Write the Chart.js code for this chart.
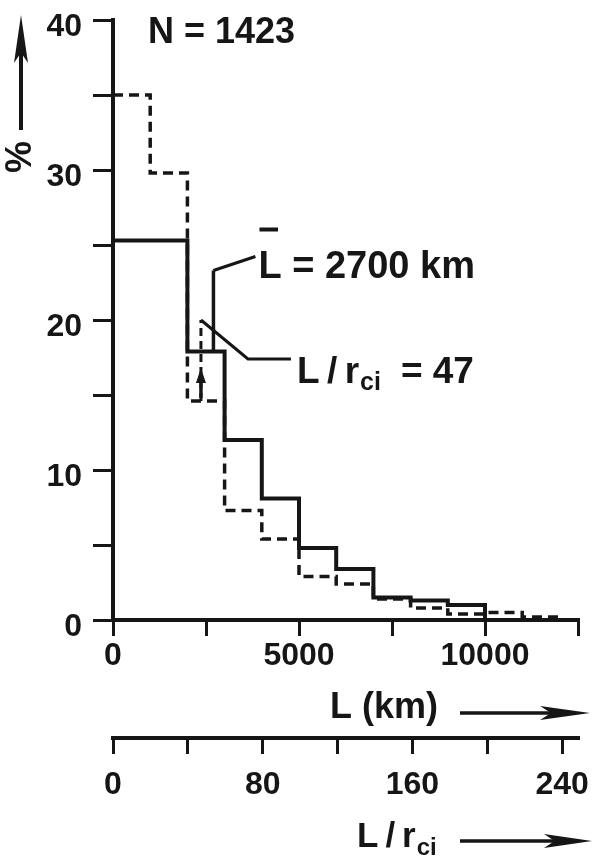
<!DOCTYPE html>
<html>
<head>
<meta charset="utf-8">
<script src="https://cdn.jsdelivr.net/npm/chart.js@4.4.6/dist/chart.umd.min.js"></script>
<style>
  html, body { margin: 0; padding: 0; background: #fff; }
</style>
</head>
<body>
<canvas id="chart" width="599" height="856"></canvas>
<script>
// Histogram of L (km), percent per 1000 km bin. Solid and dashed distributions.
const kmEdgesSolid = [0, 2000, 3000, 4000, 5000, 6000, 7000, 8000, 9000, 10000]
const pctSolid = [25.3, 17.9, 12.0, 8.1, 4.8, 3.4, 1.5, 1.3, 1.0, 0]
const kmEdgesDashed = [0, 1000, 2000, 3000, 4000, 5000, 6000, 7000, 8000, 9000, 10000, 11000, 12000]
const pctDashed = [35.0, 29.8, 14.6, 7.3, 5.4, 2.9, 2.4, 1.4, 0.8, 0.4, 0.5, 0.2, 0]

const pctTicks = [0, 5, 10, 15, 20, 25, 30, 35, 40]
const pctLabels = [0, 10, 20, 30, 40]
const kmTicks = [0, 2500, 5000, 7500, 10000, 12500]
const kmLabels = [0, 5000, 10000]
const lrciTicks = [0, 40, 80, 120, 160, 200, 240]
const lrciLabels = [0, 80, 160, 240]
const lrciMax = 248.5

const sampleSize = 1423
const meanKm = 2700        // L-bar, solid curve
const meanLrci = 47        // L/r_ci, dashed curve
const solidMarkerTop = 23.3
const dashedMarkerTop = 20.0

const INK = "#161616"
const FONT = "'Liberation Sans', Arial, sans-serif"
const W = "bold"
const THIN = "\u2009"

// value of a stepped histogram at position v
function binValue(edges, values, v) {
  let out = values[0]
  edges.forEach((e, i) => { if (v >= e) out = values[i] })
  return out
}

const dashedMeanKm = meanLrci * 12500 / lrciMax

function arrow(ctx, x1, y1, x2, y2, len, half) {
  const ang = Math.atan2(y2 - y1, x2 - x1)
  ctx.beginPath()
  ctx.moveTo(x1, y1)
  ctx.lineTo(x2 - Math.cos(ang) * len * 0.7, y2 - Math.sin(ang) * len * 0.7)
  ctx.stroke()
  ctx.save()
  ctx.translate(x2, y2)
  ctx.rotate(ang)
  ctx.beginPath()
  ctx.moveTo(0, 0)
  ctx.lineTo(-len, -half)
  ctx.lineTo(-len * 0.78, 0)
  ctx.lineTo(-len, half)
  ctx.closePath()
  ctx.fill()
  ctx.restore()
}

const notes = {
  id: "notes",
  beforeDraw(chart) {
    const { ctx, width, height } = chart
    ctx.save()
    ctx.fillStyle = "#fff"
    ctx.fillRect(0, 0, width, height)
    ctx.restore()
  },
  afterDraw(chart) {
    const { ctx, scales: { x, x2, y } } = chart
    ctx.save()
    ctx.fillStyle = INK
    ctx.strokeStyle = INK
    ctx.textAlign = "left"
    ctx.textBaseline = "alphabetic"

    // N
    ctx.font = `${W} 36px ${FONT}`
    ctx.fillText(`N = ${sampleSize}`, x.left + 35, y.top + 23)

    // solid mean marker label
    const mx = x.getPixelForValue(meanKm)
    const my = y.getPixelForValue(solidMarkerTop)
    ctx.lineWidth = 3
    ctx.beginPath()
    ctx.moveTo(mx, my)
    ctx.lineTo(mx + 42, my - 14)
    ctx.stroke()
    ctx.font = `${W} 38px ${FONT}`
    const lx = mx + 45, ly = my + 7
    ctx.fillText("L", lx, ly)
    const lw = ctx.measureText("L").width
    ctx.fillRect(lx + 1, ly - 50, lw * 0.8, 4)
    ctx.fillText(` = ${meanKm} km`, lx + lw, ly)

    // dashed mean marker: arrow + leader + label
    const dx = x2.getPixelForValue(meanLrci)
    const dTop = y.getPixelForValue(dashedMarkerTop)
    const dBot = y.getPixelForValue(binValue(kmEdgesDashed, pctDashed, dashedMeanKm))
    ctx.lineWidth = 3.5
    ctx.beginPath()
    ctx.moveTo(dx, dBot - 3)
    ctx.lineTo(dx, dBot - 20)
    ctx.stroke()
    ctx.beginPath()
    ctx.moveTo(dx, dBot - 33)
    ctx.lineTo(dx - 5, dBot - 18)
    ctx.lineTo(dx + 5, dBot - 18)
    ctx.closePath()
    ctx.fill()

    ctx.lineWidth = 3
    ctx.beginPath()
    ctx.moveTo(dx, dTop)
    ctx.lineTo(dx + 47, dTop + 39)
    ctx.lineTo(dx + 90, dTop + 39)
    ctx.stroke()
    let tx = dx + 96
    const tb = dTop + 63
    ctx.font = `${W} 37px ${FONT}`
    const lr = `L${THIN}/${THIN}r`
    ctx.fillText(lr, tx, tb)
    tx += ctx.measureText(lr).width
    ctx.font = `${W} 25px ${FONT}`
    ctx.fillText("ci", tx + 1, tb + 7)
    tx += ctx.measureText("ci").width + 1
    ctx.font = `${W} 37px ${FONT}`
    ctx.fillText(`= ${meanLrci}`, tx + 20, tb)

    // y axis title: arrow + rotated %
    ctx.lineWidth = 4
    arrow(ctx, 21, y.top + 110, 21, y.top - 5, 48, 7)
    ctx.save()
    ctx.translate(21, y.top + 137)
    ctx.rotate(-Math.PI / 2)
    ctx.font = `${W} 36px ${FONT}`
    ctx.textAlign = "center"
    ctx.textBaseline = "middle"
    ctx.fillText("%", 0, 0)
    ctx.restore()

    // km axis title
    ctx.font = `${W} 36px ${FONT}`
    ctx.fillText("L (km)", x.right - 248, x.top + 98)
    ctx.lineWidth = 3.5
    arrow(ctx, x.right - 118, x.top + 93, x.right + 12, x.top + 93, 50, 7)

    // L/r_ci axis title
    let bx = x2.right - 221
    const bb = x2.top + 109
    ctx.font = `${W} 35px ${FONT}`
    const lr2 = `L${THIN}/${THIN}r`
    ctx.fillText(lr2, bx, bb)
    bx += ctx.measureText(lr2).width
    ctx.font = `${W} 24px ${FONT}`
    ctx.fillText("ci", bx + 1, bb + 8)
    arrow(ctx, x2.right - 118, x2.top + 103, x2.right + 14, x2.top + 103, 48, 7)

    ctx.restore()
  }
}

const axisGrid = (len) => ({
  drawOnChartArea: false,
  drawTicks: true,
  tickLength: len,
  color: INK,
  lineWidth: 3
})
const axisBorder = { color: INK, width: 4 }
const tickFont = { family: FONT, size: 32, weight: W }

// keep the plot box where it is in the picture: no auto padding for labels
const noPad = (s) => { s.paddingTop = 0; s.paddingBottom = 0; s.paddingLeft = 0; s.paddingRight = 0 }

new Chart(document.getElementById("chart"), {
  type: "line",
  data: {
    datasets: [
      {
        data: kmEdgesDashed.map((v, i) => ({ x: v, y: pctDashed[i] })),
        stepped: "before",
        borderColor: INK,
        borderWidth: 3.5,
        borderDash: [10, 6],
        pointRadius: 0,
        fill: false,
        xAxisID: "x",
        yAxisID: "y"
      },
      {
        data: kmEdgesSolid.map((v, i) => ({ x: v, y: pctSolid[i] })),
        stepped: "before",
        borderColor: INK,
        borderWidth: 4,
        pointRadius: 0,
        fill: false,
        xAxisID: "x",
        yAxisID: "y"
      },
      {
        // L-bar marker
        data: [
          { x: meanKm, y: binValue(kmEdgesSolid, pctSolid, meanKm) },
          { x: meanKm, y: solidMarkerTop }
        ],
        borderColor: INK,
        borderWidth: 3.5,
        pointRadius: 0,
        xAxisID: "x",
        yAxisID: "y"
      },
      {
        // L/r_ci marker
        data: [
          { x: meanLrci, y: binValue(kmEdgesDashed, pctDashed, dashedMeanKm) },
          { x: meanLrci, y: dashedMarkerTop }
        ],
        borderColor: INK,
        borderWidth: 3,
        borderDash: [8, 5],
        pointRadius: 0,
        xAxisID: "x2",
        yAxisID: "y"
      }
    ]
  },
  options: {
    responsive: false,
    animation: false,
    layout: { padding: { top: 20, right: 21, bottom: 0, left: 0 } },
    plugins: { legend: { display: false }, tooltip: { enabled: false } },
    scales: {
      x: {
        type: "linear",
        position: "bottom",
        weight: 0,
        min: 0,
        max: 12500,
        afterBuildTicks: (s) => { s.ticks = kmTicks.map((v) => ({ value: v })) },
        afterFit: (s) => { s.height = 118; noPad(s) },
        ticks: {
          autoSkip: false,
          maxRotation: 0,
          color: INK,
          font: tickFont,
          padding: 1,
          callback: (v) => (kmLabels.includes(v) ? String(v) : "")
        },
        grid: axisGrid(16),
        border: axisBorder
      },
      x2: {
        type: "linear",
        position: "bottom",
        weight: 1,
        min: 0,
        max: lrciMax,
        afterBuildTicks: (s) => { s.ticks = lrciTicks.map((v) => ({ value: v })) },
        afterFit: (s) => { s.height = 118; noPad(s) },
        ticks: {
          autoSkip: false,
          maxRotation: 0,
          color: INK,
          font: tickFont,
          padding: 12,
          callback: (v) => (lrciLabels.includes(v) ? String(v) : "")
        },
        grid: axisGrid(16),
        border: axisBorder
      },
      y: {
        type: "linear",
        position: "left",
        min: 0,
        max: 40,
        afterBuildTicks: (s) => { s.ticks = pctTicks.map((v) => ({ value: v })) },
        afterFit: (s) => { s.width = 113; noPad(s) },
        ticks: {
          autoSkip: false,
          color: INK,
          font: tickFont,
          padding: 11,
          labelOffset: 7,
          callback: (v) => (pctLabels.includes(v) ? String(v) : "")
        },
        grid: axisGrid(20),
        border: axisBorder
      }
    }
  },
  plugins: [notes]
})
</script>
</body>
</html>
